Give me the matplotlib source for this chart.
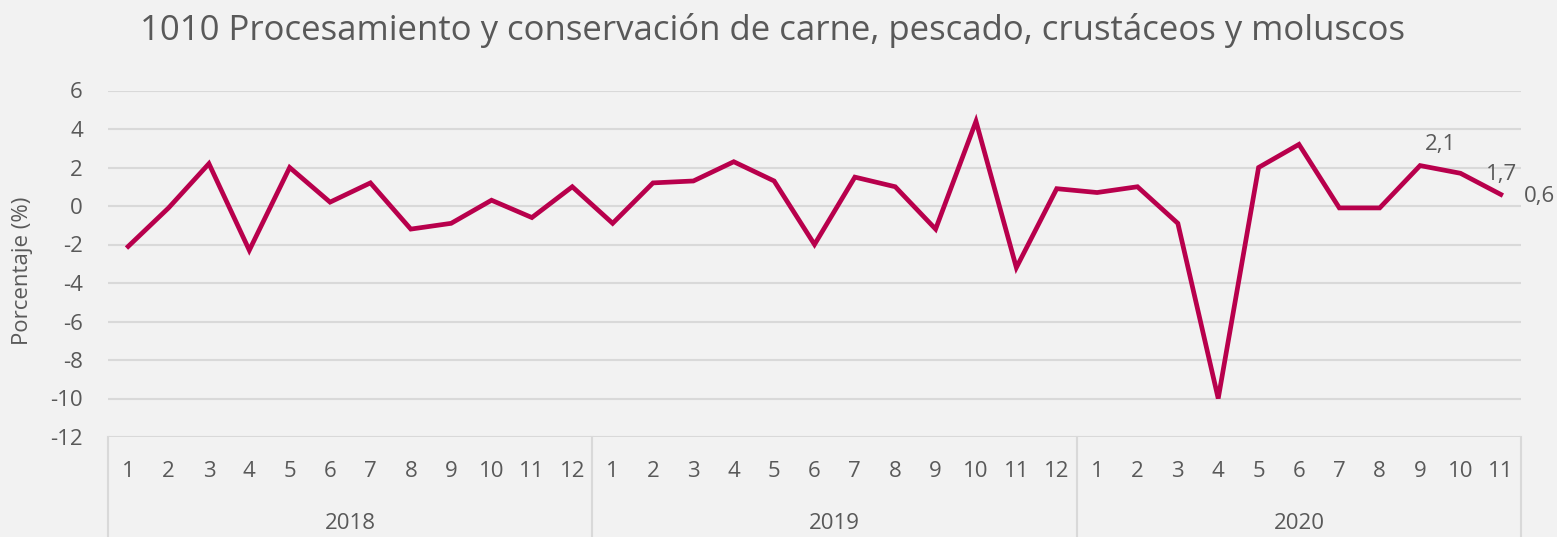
import matplotlib
matplotlib.use("Agg")
import matplotlib.pyplot as plt
import matplotlib.transforms as mtransforms
import numpy as np

plt.rcParams['font.family'] = ['Open Sans', 'DejaVu Sans']

# data
years = ['2018', '2019', '2020']
months_per_year = [12, 12, 11]
values = [-2.1, -0.1, 2.2, -2.3, 2.0, 0.2, 1.2, -1.2, -0.9, 0.3, -0.6, 1.0,
          -0.9, 1.2, 1.3, 2.3, 1.3, -2.0, 1.5, 1.0, -1.2, 4.4, -3.2, 0.9,
          0.7, 1.0, -0.9, -10.0, 2.0, 3.2, -0.1, -0.1, 2.1, 1.7, 0.6]
labelled = {32: '2,1', 33: '1,7', 34: '0,6'}
yticks = list(range(-12, 7, 2))

bg = '#f2f2f2'
grey = '#595959'
grid_c = '#d9d9d9'
line_c = '#b8004c'
fs = 16

month_labels = []
for n in months_per_year:
    month_labels += [str(m) for m in range(1, n + 1)]
x = np.arange(len(values))

fig = plt.figure(figsize=(15.57, 5.37), dpi=100, facecolor=bg)
ax = fig.add_axes([108 / 1557, 100 / 537, 1413 / 1557, 346.5 / 537])
ax.set_facecolor(bg)

ax.plot(x, values, color=line_c, lw=3.4, solid_joinstyle='miter', zorder=3)

ax.set_xlim(-0.5, len(values) - 0.5)
ax.set_ylim(-12, 6)
ax.set_yticks(yticks)
ax.set_yticklabels([str(t) for t in yticks])
ax.grid(axis='y', color=grid_c, lw=1.5)
ax.set_axisbelow(True)
for s in ax.spines.values():
    s.set_visible(False)

ax.set_xticks(x)
ax.set_xticklabels(month_labels)
ax.tick_params(axis='x', length=0, pad=17, labelsize=fs, colors=grey)
ax.tick_params(axis='y', length=0, pad=18, labelsize=fs, colors=grey)

# year grouping boxes under the axis
trans = mtransforms.blended_transform_factory(ax.transData, ax.transAxes)
bounds = np.concatenate([[0], np.cumsum(months_per_year)]) - 0.5
for b in bounds:
    ax.plot([b, b], [0, -0.29], transform=trans, color=grid_c, lw=1.5, clip_on=False)
for i, yr in enumerate(years):
    ax.text((bounds[i] + bounds[i + 1]) / 2, -0.251, yr, transform=trans,
            ha='center', va='center', fontsize=fs, color=grey)

# data labels
offsets = {32: (5, 21), 33: (25, -1), 34: (23, -2)}
for i, txt in labelled.items():
    ax.annotate(txt, (x[i], values[i]), xytext=offsets[i], textcoords='offset pixels',
                ha='left', va='center', fontsize=fs, color=grey, annotation_clip=False)

ax.set_ylabel('Porcentaje (%)', fontsize=fs, color=grey)
ax.yaxis.set_label_coords(-0.0531, 0.48)

fig.text(0.496, 0.944, '1010 Procesamiento y conservación de carne, pescado, crustáceos y moluscos',
         ha='center', va='center', fontsize=25, color=grey)

fig.savefig('out.png', dpi=100, facecolor=bg)
